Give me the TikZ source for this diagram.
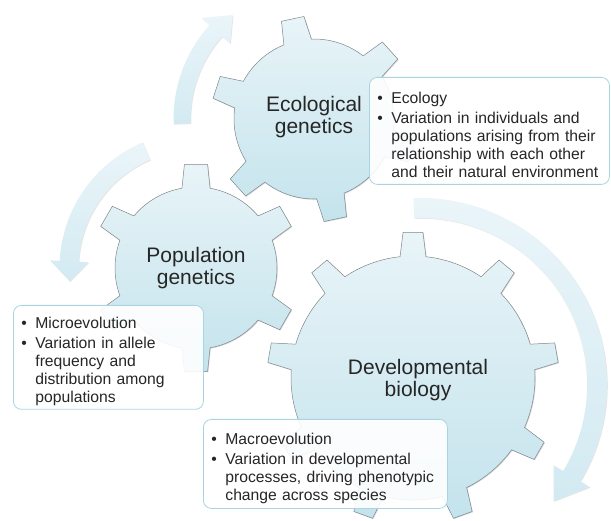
\documentclass[tikz,border=0pt]{standalone}
\usepackage{fontspec}
\setmainfont{Liberation Sans}
\usetikzlibrary{shadows}
\definecolor{ink}{HTML}{262626}
\definecolor{gearTop}{HTML}{E8F4F8}
\definecolor{gearBottom}{HTML}{C4E3EC}
\definecolor{gearLine}{HTML}{7D878C}
\definecolor{arrowTop}{HTML}{EAF5F9}
\definecolor{arrowBottom}{HTML}{D3EAF2}
\definecolor{boxLine}{HTML}{A9D5E2}

% cog: centre, teeth, root radius, tip radius, first tooth angle, half angle at root, half angle at tip
\newcommand{\cog}[7]{%
  \path[cog, shift={(#1)}] (#5-#6:#3)
    \foreach \tooth [evaluate=\tooth as \dir using {#5+(\tooth-1)*360/#2}] in {1,...,#2}
      { -- (\dir-#7:#4) -- (\dir+#7:#4) -- (\dir+#6:#3)
        arc[start angle=\dir+#6, end angle=\dir+360/#2-#6, radius=#3] }
    -- cycle;}

% curved arrow: centre, mid radius, half width, tail angle, head angle, tip angle, head half width
\newcommand{\turnarrow}[7]{%
  \pgfmathsetmacro\arrout{#2+#3}\pgfmathsetmacro\arrin{#2-#3}%
  \pgfmathsetmacro\headout{#2+#7}\pgfmathsetmacro\headin{#2-#7}%
  \path[turn, shift={(#1)}] (#4:\arrout) arc[start angle=#4, end angle=#5, radius=\arrout]
    -- (#5:\headout) -- (#6:#2) -- (#5:\headin) -- (#5:\arrin)
    arc[start angle=#5, end angle=#4, radius=\arrin] -- cycle;}

% bullet line with hanging text
\newcommand{\bitem}[1]{\par\leftskip=14pt\parskip=2pt\noindent\llap{\makebox[14pt][l]{\textbullet}}#1\par}

\begin{document}
\begin{tikzpicture}[x=1pt, y=1pt,
  cog/.style={draw=gearLine, line width=0.5pt, top color=gearTop, bottom color=gearBottom,
    drop shadow={shadow xshift=0.8pt, shadow yshift=-0.8pt, opacity=0.3}},
  turn/.style={top color=arrowTop, bottom color=arrowBottom,
    drop shadow={shadow xshift=0.8pt, shadow yshift=-0.8pt, opacity=0.2}},
  cogtext/.style={font=\fontsize{21}{22}\selectfont, text=ink, align=center},
  note/.style={draw=boxLine, line width=0.8pt, fill=white, fill opacity=0.9, text opacity=1,
    rounded corners=8pt, anchor=north west, align=left, font=\fontsize{15.7}{18}\selectfont,
    text=ink, inner xsep=8pt}
]
\useasboundingbox (0,0) rectangle (611,520);

\coordinate (eco) at (314,401);
\coordinate (pop) at (196,252);
\coordinate (dev) at (413,142);
\coordinate (devturn) at (420,135);

% turning arrows
\turnarrow{eco}{132}{8.5}{182}{138}{128}{19}
\turnarrow{pop}{127}{9.5}{113}{177}{186}{19}
\turnarrow{devturn}{177}{10}{92}{-31}{-41}{21}

% gears
\cog{dev}{9}{122}{146}{90}{6.1}{3.9}
\node[cogtext] (devbio) at (418,140) {Developmental\\biology};
\cog{pop}{6}{81}{104}{30}{10}{6.4}
\node[cogtext] (popgen) at (pop) {Population\\genetics};
\cog{eco}{6}{80}{103}{42}{10.1}{6.4}
\node[cogtext] (ecogen) at (314,403) {Ecological\\genetics};

% notes
\node[note, text width=224pt, minimum height=107pt] (ecology) at (369,443)
  {\bitem{Ecology}\bitem{Variation in individuals and\newline populations arising from their\newline relationship with each other\newline and their natural environment}};
\node[note, text width=174pt, minimum height=99pt] (micro) at (13,215)
  {\bitem{Microevolution}\bitem{Variation in allele\newline frequency and\newline distribution among\newline populations}};
\node[note, text width=228pt, minimum height=89pt] (macro) at (203,101)
  {\bitem{Macroevolution}\bitem{Variation in developmental\newline processes, driving phenotypic\newline change across species}};
\end{tikzpicture}
\end{document}
